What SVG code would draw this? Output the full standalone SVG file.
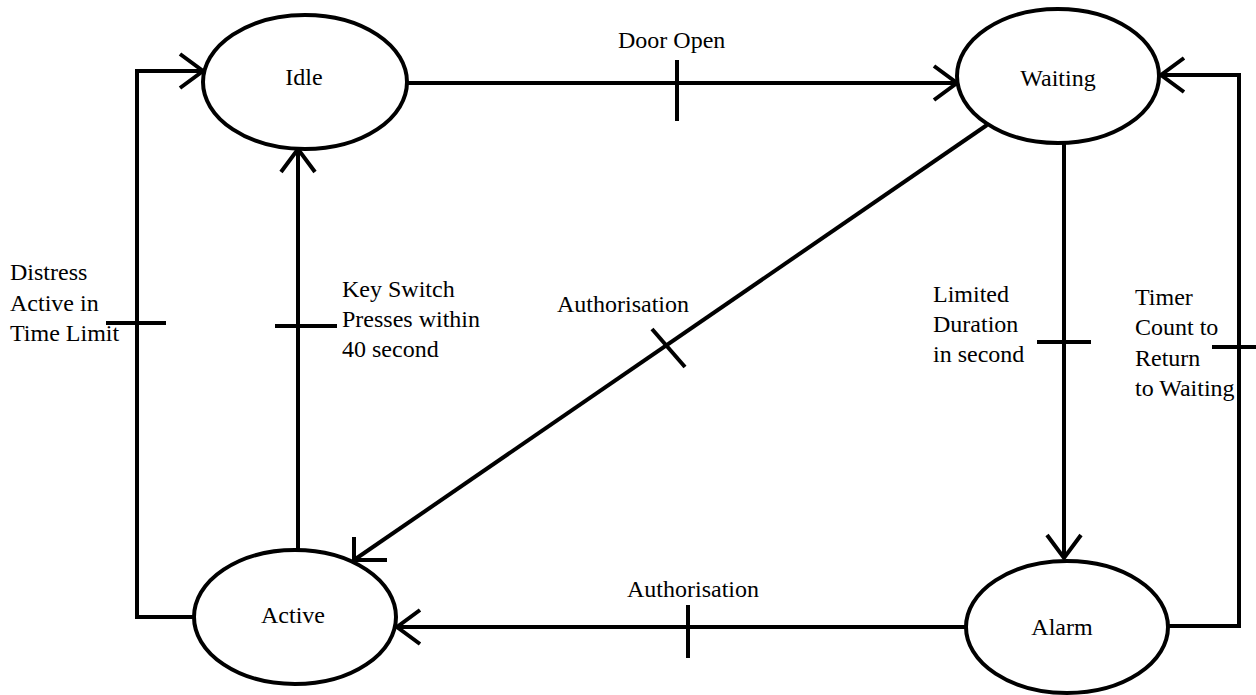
<svg xmlns="http://www.w3.org/2000/svg" width="1256" height="695" viewBox="0 0 1256 695">
  <style>
    .node { fill: #ffffff; stroke: #000000; stroke-width: 4; }
    .edge { fill: none; stroke: #000000; stroke-width: 4; }
    .tick { fill: none; stroke: #000000; stroke-width: 4; }
    .lbl { font-family: 'Liberation Serif', 'Times New Roman', 'DejaVu Serif', serif; font-size: 24px; fill: #000000; }
    .mid { text-anchor: middle; }
  </style>
  <defs>
    <marker id="arrow" markerUnits="userSpaceOnUse" viewBox="-30 -22 34 44" refX="0" refY="0" markerWidth="34" markerHeight="44" orient="auto" overflow="visible">
      <path d="M-23,-17 L0,0 L-23,17" fill="none" stroke="#000000" stroke-width="4"/>
    </marker>
  </defs>
  <rect width="1256" height="695" fill="#ffffff"/>

  <g id="connectors">
    <path class="edge" d="M406,83 H957" marker-end="url(#arrow)"/>
    <path class="edge" d="M1169,626 H1239 V75 H1161" marker-end="url(#arrow)"/>
    <path class="edge" d="M1064,143 V558" marker-end="url(#arrow)"/>
    <path class="edge" d="M966,627 H397" marker-end="url(#arrow)"/>
    <path class="edge" d="M987,125 L354,560"/>
    <path class="edge" d="M354,537 V560 H387"/>
    <path class="edge" d="M298,550 V149" marker-end="url(#arrow)"/>
    <path class="edge" d="M195,617 H137 V71 H203" marker-end="url(#arrow)"/>

    <path class="tick" d="M677,60 V121"/>
    <path class="tick" d="M1212,347 H1262"/>
    <path class="tick" d="M1037,342 H1091"/>
    <path class="tick" d="M688,605 V658"/>
    <path class="tick" d="M652,329 L685,367"/>
    <path class="tick" d="M275,326 H337"/>
    <path class="tick" d="M106,323 H166"/>

    <text class="lbl" x="618" y="48">Door Open</text>
    <text class="lbl" x="557" y="312">Authorisation</text>
    <text class="lbl" x="627" y="597">Authorisation</text>
    <text class="lbl"><tspan x="10" y="280">Distress</tspan><tspan x="10" y="311">Active in</tspan><tspan x="10" y="341">Time Limit</tspan></text>
    <text class="lbl"><tspan x="342" y="297">Key Switch</tspan><tspan x="342" y="327">Presses within</tspan><tspan x="342" y="357">40 second</tspan></text>
    <text class="lbl"><tspan x="933" y="302">Limited</tspan><tspan x="933" y="332">Duration</tspan><tspan x="933" y="362">in second</tspan></text>
    <text class="lbl"><tspan x="1135" y="305">Timer</tspan><tspan x="1135" y="335">Count to</tspan><tspan x="1135" y="366">Return</tspan><tspan x="1135" y="396">to Waiting</tspan></text>
  </g>

  <g id="idle">
    <ellipse class="node" cx="305" cy="82" rx="102" ry="67"/>
    <text class="lbl mid" x="304" y="85">Idle</text>
  </g>
  <g id="waiting">
    <ellipse class="node" cx="1058" cy="76" rx="101" ry="67"/>
    <text class="lbl mid" x="1058" y="86">Waiting</text>
  </g>
  <g id="active">
    <ellipse class="node" cx="295" cy="617" rx="101" ry="67"/>
    <text class="lbl mid" x="293" y="623">Active</text>
  </g>
  <g id="alarm">
    <ellipse class="node" cx="1067" cy="627" rx="101" ry="66"/>
    <text class="lbl mid" x="1062" y="635">Alarm</text>
  </g>
</svg>
